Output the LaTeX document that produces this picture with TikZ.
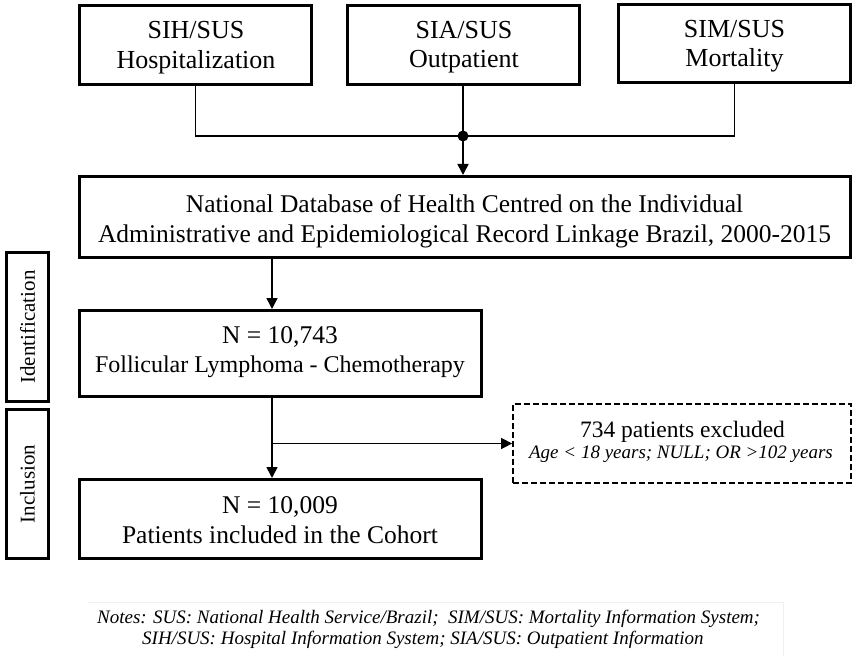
\documentclass[tikz,border=0pt]{standalone}
\usepackage{fontspec}
\setmainfont{Liberation Serif}
\usetikzlibrary{arrows.meta}
\tikzset{
  box/.style={draw, line width=3pt, inner sep=0pt},
  txt/.style={inner sep=0pt, anchor=base, font=\fontsize{25.5}{30}\selectfont},
  toptxt/.style={txt, font=\fontsize{26}{30}\selectfont},
  sidebox/.style={draw, line width=3pt, inner sep=0pt, minimum width=42pt, minimum height=149pt},
  sidelabel/.style={rotate=90, inner sep=0pt, font=\fontsize{21}{24}\selectfont},
  exclbox/.style={draw, line width=1.8pt, dash pattern=on 6pt off 3pt, inner sep=0pt},
  conn/.style={line width=1.6pt},
  arr/.style={conn, -{Triangle[width=11pt,length=11pt]}},
  notetext/.style={font=\fontsize{19}{22}\selectfont\itshape, inner sep=0pt, anchor=base west},
}
\begin{document}
\begin{tikzpicture}[x=1pt,y=-1pt]
\useasboundingbox (0,0) rectangle (858,655);
% top sources
\node[box, minimum width=232pt, minimum height=79pt] (sih) at (195.5,45) {};
\node[toptxt] (sih1) at (196,39) {SIH/SUS};
\node[toptxt] (sih2) at (196,69) {Hospitalization};
\node[box, minimum width=232pt, minimum height=79pt] (sia) at (463,45) {};
\node[toptxt] (sia1) at (464,39) {SIA/SUS};
\node[toptxt] (sia2) at (464,68) {Outpatient};
\node[box, minimum width=232pt, minimum height=78pt] (sim) at (734.5,44) {};
\node[toptxt] (sim1) at (734.5,38) {SIM/SUS};
\node[toptxt] (sim2) at (734.5,67) {Mortality};
% database
\node[box, minimum width=771pt, minimum height=81pt] (db) at (465,217) {};
\node[txt] (db1) at (464.5,212) {National Database of Health Centred on the Individual};
\node[txt] (db2) at (464.5,242) {Administrative and Epidemiological Record Linkage Brazil, 2000-2015};
% flow boxes
\node[box, minimum width=402pt, minimum height=86pt] (n1) at (280.5,353.5) {};
\node[txt] (n1a) at (280,343) {N = 10,743};
\node[txt, font=\fontsize{24}{30}\selectfont] (n1b) at (280,372) {Follicular Lymphoma - Chemotherapy};
\node[box, minimum width=402pt, minimum height=79pt] (n2) at (280.5,519) {};
\node[txt] (n2a) at (280,513) {N = 10,009};
\node[txt] (n2b) at (280,543) {Patients included in the Cohort};
\node[exclbox, minimum width=338pt, minimum height=79pt] (ex) at (682,443.5) {};
\node[txt, font=\fontsize{23.5}{26}\selectfont] (ex1) at (682.5,437) {734 patients excluded};
\node[txt, font=\fontsize{19}{22}\selectfont\itshape] (ex2) at (681,458) {Age < 18 years; NULL; OR >102 years};
% side labels
\node[sidebox] (idb) at (27.5,327) {};
\node[sidelabel] (idl) at (idb.center) {Identification};
\node[sidebox] (inb) at (27.5,484) {};
\node[sidelabel] (inl) at (inb.center) {Inclusion};
% connectors
\coordinate (dot) at (sia.south |- 0,136);
\draw[conn] (sih.south) |- (dot);
\draw[conn] (sim.south) |- (dot);
\draw[conn] (sia.south) -- (dot);
\fill (dot) circle (5.5pt);
\draw[arr] (dot) -- (dot |- db.north);
\coordinate (ax) at (272,0);
\draw[arr] (ax |- db.south) -- (ax |- n1.north);
\draw[arr] (ax |- n1.south) -- (ax |- n2.north);
\coordinate (br) at (272,443.5);
\draw[arr] (br) -- (ex.west);
% notes
\draw[gray!12, line width=0.8pt] (88,602) -- (783,602) -- (783,658);
\node[notetext] (note1) at (97,623) {Notes: SUS: National Health Service/Brazil;\ \ SIM/SUS: Mortality Information System;};
\node[notetext] (note2) at (142,644) {SIH/SUS: Hospital Information System; SIA/SUS: Outpatient Information};
\end{tikzpicture}
\end{document}
